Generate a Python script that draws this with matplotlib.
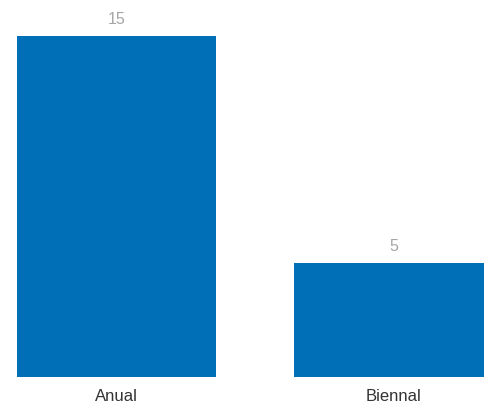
import matplotlib
matplotlib.use("Agg")
import matplotlib.pyplot as plt

categories = ["Anual", "Biennal"]
values = [15, 5]

bar_color = "#006FB7"

fig = plt.figure(figsize=(4.84, 4.07), dpi=100)
ax = fig.add_axes([0, 30 / 407, 1, 377 / 407])

x = list(range(len(categories)))
bars = ax.bar(x, values, width=0.718, color=bar_color)

ax.set_xlim(-116.5 / 277, (484 - 116.5) / 277)
ax.set_ylim(0, 377 / (341 / 15))

# etiquetas de valor acima das barras
for b, v in zip(bars, values):
    ax.annotate(str(v), (b.get_x() + b.get_width() / 2, b.get_height()),
                xytext=(0, 12), textcoords="offset points",
                ha="center", va="center", fontsize=11.5,
                color="#A6A6A6", family="Liberation Sans")

ax.set_xticks(x)
ax.set_xticklabels(categories, fontsize=12, color="#333333", family="Liberation Sans")
ax.tick_params(axis="x", length=0, pad=8.5)
ax.set_yticks([])
for s in ax.spines.values():
    s.set_visible(False)

fig.savefig("out.png", dpi=100)
